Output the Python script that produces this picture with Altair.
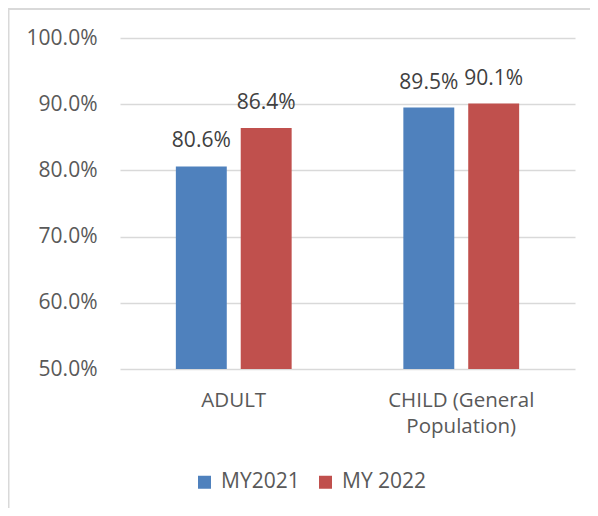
import altair as alt
import pandas as pd

categories = ["ADULT", "CHILD (General Population)"]
series = ["MY2021", "MY 2022"]
values_my2021 = [0.806, 0.895]
values_my2022 = [0.864, 0.901]
colors = ["#4F81BD", "#C0504D"]

rows = []
for i, c in enumerate(categories):
    rows.append({"category": c, "series": series[0], "value": values_my2021[i]})
    rows.append({"category": c, "series": series[1], "value": values_my2022[i]})
df = pd.DataFrame(rows)

FONT = "Open Sans"

x_enc = alt.X(
    "category:N",
    sort=categories,
    scale=alt.Scale(paddingInner=0.491, paddingOuter=0.2455),
    axis=alt.Axis(
        title=None,
        domain=False,
        ticks=False,
        grid=False,
        labelAngle=0,
        labelFontSize=20.5,
        labelFont=FONT,
        labelColor="#595959",
        labelPadding=21,
        labelBaseline="top",
        labelLineHeight=26,
        labelExpr="datum.label == 'CHILD (General Population)' ? ['CHILD (General', 'Population)'] : datum.label",
    ),
)
xoff_enc = alt.XOffset(
    "series:N", sort=series, scale=alt.Scale(paddingInner=0.215, paddingOuter=0)
)
y_enc = alt.Y(
    "value:Q",
    scale=alt.Scale(domain=[0.5, 1.0], zero=False, nice=False),
    axis=alt.Axis(
        title=None,
        format=".1%",
        values=[0.5, 0.6, 0.7, 0.8, 0.9, 1.0],
        domain=False,
        ticks=False,
        labelFontSize=21,
        labelFont=FONT,
        labelColor="#595959",
        labelPadding=23,
        gridColor="#d9d9d9",
        gridWidth=1.5,
    ),
)

bars = alt.Chart(df).mark_bar().encode(
    x=x_enc,
    xOffset=xoff_enc,
    y=y_enc,
    y2=alt.datum(0.5),
    color=alt.Color(
        "series:N",
        sort=series,
        scale=alt.Scale(domain=series, range=colors),
        legend=alt.Legend(
            title=None,
            orient="none",
            legendX=74,
            legendY=433.5,
            direction="horizontal",
            symbolType="square",
            symbolSize=169,
            symbolStrokeWidth=0,
            labelFontSize=21,
            labelFont=FONT,
            labelColor="#595959",
            labelOffset=6,
            columnPadding=15,
        ),
    ),
)

labels = alt.Chart(df).mark_text(
    dy=-19, baseline="alphabetic", fontSize=21, font=FONT, color="#404040"
).encode(
    x=alt.X("category:N", sort=categories),
    xOffset=alt.XOffset("series:N", sort=series),
    y=alt.Y("value:Q"),
    text=alt.Text("value:Q", format=".1%"),
)

frame_df = pd.DataFrame({"k": [0]})
left_border = alt.Chart(frame_df).mark_rule(color="#d9d9d9", strokeWidth=2).encode(
    x=alt.value(-111.5), y=alt.value(-29), y2=alt.value(470)
)
top_border = alt.Chart(frame_df).mark_rule(color="#d9d9d9", strokeWidth=2).encode(
    x=alt.value(-112.5), x2=alt.value(470), y=alt.value(-29)
)

chart = (
    alt.layer(left_border, top_border, bars, labels)
    .properties(
        width=455,
        height=331,
        background="white",
        autosize=alt.AutoSizeParams(type="none"),
        padding={"left": 112, "top": 30, "right": 15, "bottom": 139},
    )
    .configure_view(strokeWidth=0, stroke="transparent")
)

chart.save("out.html", embed_options={"renderer": "svg", "actions": False})
